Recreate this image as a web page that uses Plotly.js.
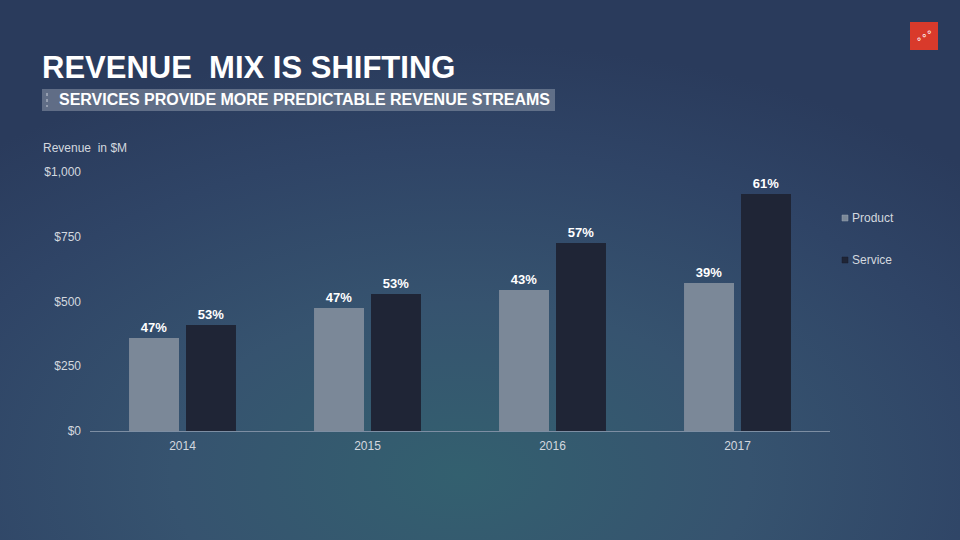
<!DOCTYPE html>
<html>
<head>
<meta charset="utf-8">
<script src="https://cdn.plot.ly/plotly-3.0.1.min.js"></script>
<style>
html,body{margin:0;padding:0;width:960px;height:540px;overflow:hidden;}
body{background:radial-gradient(ellipse 75% 80% at 48% 88%, #33606f 0%, #36536f 40%, #2f4466 75%, #2a3b5c 100%);}
#chart{width:960px;height:540px;}
</style>
</head>
<body>
<div id="chart"></div>
<script>
var years = ['2014', '2015', '2016', '2017'];
var productValues = [359, 475, 544, 571];
var serviceValues = [409, 529, 726, 915];
var productLabels = ['47%', '47%', '43%', '39%'];
var serviceLabels = ['53%', '53%', '57%', '61%'];
var seriesNames = ['Product', 'Service'];
var seriesColors = ['#7b8898', '#1f2536'];
var yTickVals = [0, 250, 500, 750, 1000];
var yTickText = ['$0', '$250', '$500', '$750', '$1,000'];

var L = 90, R = 830, T = 172, B = 431;
function fx(px){ return (px - L) / (R - L); }
function fy(py){ return (B - py) / (B - T); }

var labelFont = {family:'Arial, Liberation Sans', size:13, color:'#ffffff', weight:'bold'};
var traces = [
  {type:'bar', name:seriesNames[0], x:years, y:productValues, text:productLabels,
   textposition:'outside', cliponaxis:false, textfont:labelFont,
   marker:{color:seriesColors[0]}, hoverinfo:'none', showlegend:false},
  {type:'bar', name:seriesNames[1], x:years, y:serviceValues, text:serviceLabels,
   textposition:'outside', cliponaxis:false, textfont:labelFont,
   marker:{color:seriesColors[1]}, hoverinfo:'none', showlegend:false}
];

var shapes = [
  {type:'rect', xref:'paper', yref:'paper', x0:fx(42), x1:fx(555), y0:fy(89), y1:fy(111),
   fillcolor:'rgba(140,152,170,0.55)', line:{width:0}, layer:'below'},
  {type:'line', xref:'paper', yref:'paper', x0:fx(47), x1:fx(47), y0:fy(93), y1:fy(107),
   line:{color:'#c9cfd8', width:1, dash:'dot'}},
  {type:'rect', xref:'paper', yref:'paper', x0:fx(910), x1:fx(938), y0:fy(22), y1:fy(50),
   fillcolor:'#d93a2b', line:{width:0}}
];
var annotations = [
  {xref:'paper', yref:'paper', x:fx(40), y:fy(68), xanchor:'left', yanchor:'middle',
   text:'<b>REVENUE  MIX IS SHIFTING</b>', showarrow:false,
   font:{family:'Arial, Liberation Sans', size:31, color:'#ffffff'}},
  {xref:'paper', yref:'paper', x:fx(57), y:fy(100), xanchor:'left', yanchor:'middle',
   text:'<b>SERVICES PROVIDE MORE PREDICTABLE REVENUE STREAMS</b>', showarrow:false,
   font:{family:'Arial, Liberation Sans', size:16, color:'#ffffff'}},
  {xref:'paper', yref:'paper', x:fx(41), y:fy(148), xanchor:'left', yanchor:'middle',
   text:'Revenue  in $M', showarrow:false,
   font:{family:'Arial, Liberation Sans', size:12, color:'#d3d8df'}},
  {xref:'paper', yref:'paper', x:fx(924), y:fy(36), xanchor:'center', yanchor:'middle',
   text:'∘∘∘', showarrow:false, textangle:-35,
   font:{family:'DejaVu Sans', size:10, color:'#ffffff'}}
];
var legendY = [218, 260];
for (var i = 0; i < seriesNames.length; i++) {
  shapes.push({type:'rect', xref:'paper', yref:'paper', x0:fx(842), x1:fx(848),
    y0:fy(legendY[i]+3), y1:fy(legendY[i]-3), fillcolor:seriesColors[i],
    line:{color:i===0?'#9aa5b3':'#1a1f2c', width:0.5}});
  annotations.push({xref:'paper', yref:'paper', x:fx(850), y:fy(legendY[i]), xanchor:'left',
    yanchor:'middle', text:seriesNames[i], showarrow:false,
    font:{family:'Arial, Liberation Sans', size:12, color:'#d3d8df'}});
}

var layout = {
  width:960, height:540,
  margin:{l:L, r:960-R, t:T, b:540-B, pad:0},
  paper_bgcolor:'rgba(0,0,0,0)', plot_bgcolor:'rgba(0,0,0,0)',
  barmode:'group', bargap:0.384, bargroupgap:0.123,
  font:{family:'Arial, Liberation Sans', color:'#d3d8df', size:12},
  showlegend:false,
  xaxis:{type:'category', showgrid:false, zeroline:false, showline:true,
         linecolor:'#7d8ea3', linewidth:1, ticks:'', tickfont:{size:12, color:'#d3d8df'},
         ticklabelstandoff:4},
  yaxis:{range:[0,1000], tickvals:yTickVals, ticktext:yTickText, showgrid:false,
         zeroline:false, showline:false, ticks:'', tickfont:{size:12, color:'#d3d8df'},
         ticklabelstandoff:8},
  shapes:shapes,
  annotations:annotations
};

Plotly.newPlot('chart', traces, layout, {staticPlot:true, displayModeBar:false});
</script>
</body>
</html>
